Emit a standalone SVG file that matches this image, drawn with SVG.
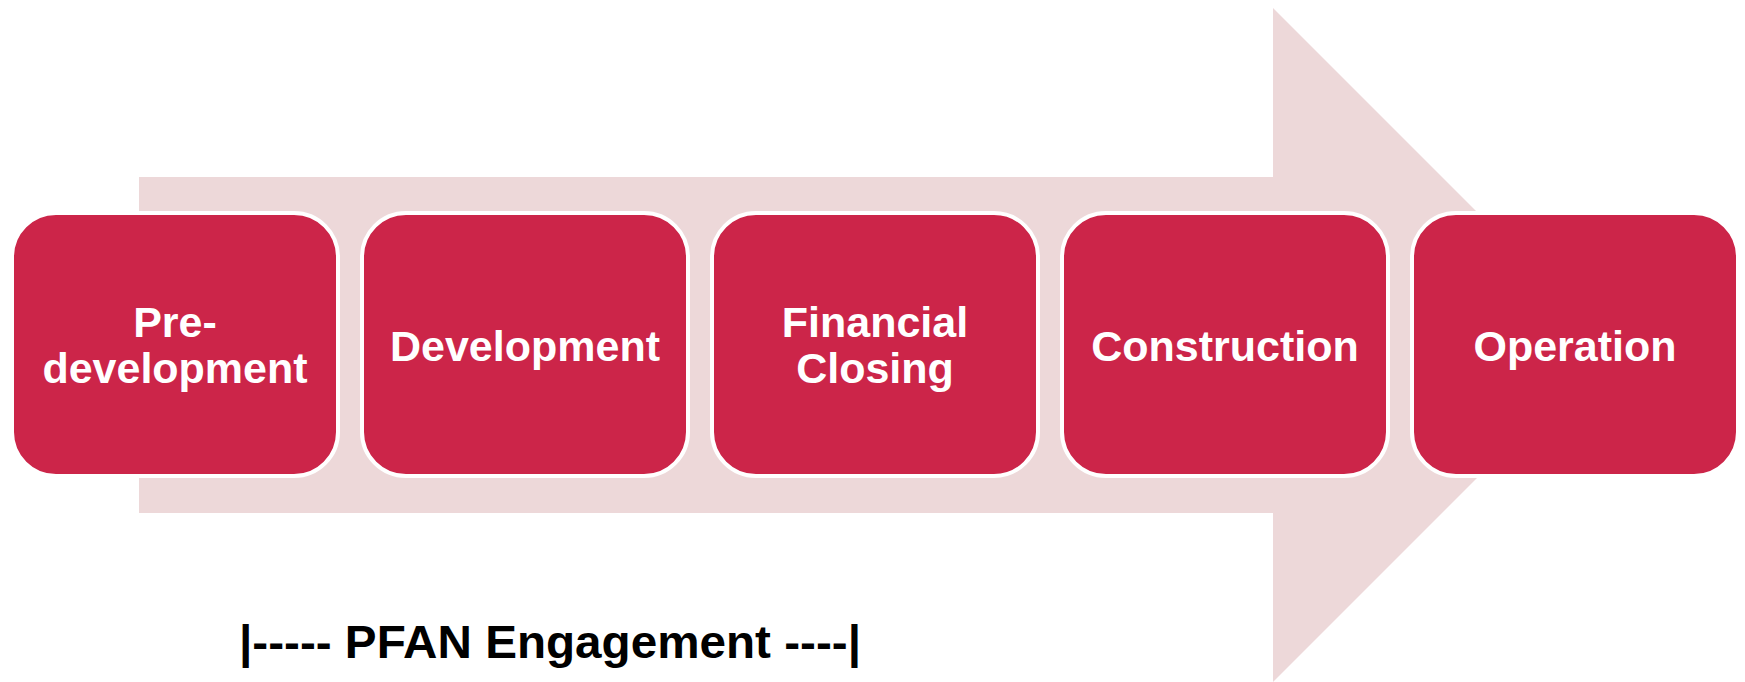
<svg xmlns="http://www.w3.org/2000/svg" width="1745" height="682" viewBox="0 0 1745 682">
<style>
.box{fill:#CC2549;stroke:#FFFFFF;stroke-width:4}
.lbl{font-family:"Liberation Sans",Arial,sans-serif;font-weight:bold;font-size:43px;fill:#FFFFFF;text-anchor:middle}
.eng{font-family:"Liberation Sans",Arial,sans-serif;font-weight:bold;font-size:46px;fill:#000000}
</style>
<rect width="1745" height="682" fill="#FFFFFF"/>
<g id="connectors">
<path id="big-arrow" d="M139,177 H1273 V8 L1610,345 L1273,682 V513 H139 Z" fill="#EDD8D9"/>
</g>
<g id="node-predevelopment">
<rect class="box" x="12" y="213" width="326" height="263" rx="44" ry="44"/>
<text class="lbl" x="175" y="337">Pre-</text>
<text class="lbl" x="175" y="383">development</text>
</g>
<g id="node-development">
<rect class="box" x="362" y="213" width="326" height="263" rx="44" ry="44"/>
<text class="lbl" x="525" y="361">Development</text>
</g>
<g id="node-financial-closing">
<rect class="box" x="712" y="213" width="326" height="263" rx="44" ry="44"/>
<text class="lbl" x="875" y="337">Financial</text>
<text class="lbl" x="875" y="383">Closing</text>
</g>
<g id="node-construction">
<rect class="box" x="1062" y="213" width="326" height="263" rx="44" ry="44"/>
<text class="lbl" x="1225" y="361">Construction</text>
</g>
<g id="node-operation">
<rect class="box" x="1412" y="213" width="326" height="263" rx="44" ry="44"/>
<text class="lbl" x="1575" y="361">Operation</text>
</g>
<g id="engagement-label">
<text class="eng" x="239" y="658" textLength="622" lengthAdjust="spacingAndGlyphs">|----- PFAN Engagement ----|</text>
</g>
</svg>
